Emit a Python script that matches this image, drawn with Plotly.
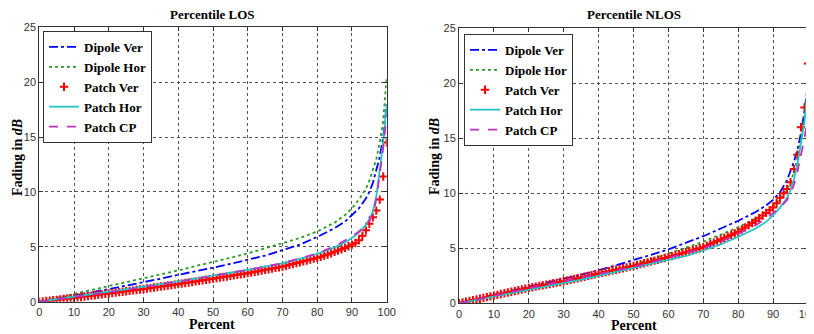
import plotly.graph_objects as go

# ---------------- data ----------------
pct = [0, 5, 10, 15, 20, 25, 30, 35, 40, 45, 50, 55, 60, 65, 70, 75, 80, 85, 88, 90,
       92, 94, 95, 96, 97, 98, 99, 100]
pct_fine = list(range(0, 101))

los_dipole_ver = [0, 0.27, 0.55, 0.85, 1.15, 1.45, 1.8, 2.1, 2.45, 2.75, 3.1, 3.45, 3.8, 4.2,
                  4.7, 5.2, 5.9, 6.7, 7.3, 7.9, 8.5, 9.4, 10.0, 10.8, 12.0, 13.2, 15.0, 18.0]
los_dipole_hor = [0, 0.35, 0.7, 1.05, 1.4, 1.8, 2.15, 2.5, 2.85, 3.25, 3.6, 4.0, 4.4, 4.85,
                  5.3, 5.8, 6.4, 7.2, 7.9, 8.5, 9.3, 10.3, 11.0, 11.9, 13.0, 14.5, 16.5, 20.5]
los_patch_ver = [0.0, 0.03, 0.07, 0.1, 0.14, 0.17, 0.21, 0.24, 0.28, 0.31, 0.35,
                 0.39, 0.43, 0.47, 0.51, 0.55, 0.59, 0.63, 0.67, 0.71, 0.75,
                 0.79, 0.83, 0.87, 0.91, 0.95, 0.99, 1.03, 1.07, 1.11, 1.15,
                 1.2, 1.24, 1.29, 1.33, 1.38, 1.42, 1.47, 1.51, 1.56, 1.6,
                 1.65, 1.7, 1.75, 1.8, 1.85, 1.9, 1.95, 2.0, 2.05, 2.1,
                 2.15, 2.2, 2.25, 2.3, 2.35, 2.4, 2.45, 2.5, 2.55, 2.6,
                 2.66, 2.72, 2.78, 2.84, 2.9, 2.96, 3.02, 3.08, 3.14, 3.2,
                 3.28, 3.36, 3.44, 3.52, 3.6, 3.68, 3.76, 3.84, 3.92, 4.0,
                 4.1, 4.2, 4.3, 4.42, 4.55, 4.66, 4.78, 4.9, 5.05, 5.2,
                 5.35, 5.6, 6.0, 6.5, 7.1, 7.7, 8.3, 9.3, 11.4, 14.5]
los_patch_hor = [0, 0.22, 0.45, 0.68, 0.9, 1.13, 1.36, 1.6, 1.85, 2.1, 2.36, 2.62, 2.9, 3.2,
                 3.5, 3.9, 4.35, 4.95, 5.4, 5.8, 6.3, 7.0, 7.5, 8.2, 9.6, 12.0, 14.5, 18.0]
los_patch_cp = [0, 0.2, 0.42, 0.64, 0.87, 1.1, 1.33, 1.58, 1.82, 2.08, 2.34, 2.6, 2.88, 3.18,
                3.5, 3.92, 4.4, 5.05, 5.55, 5.95, 6.4, 7.0, 7.4, 8.0, 9.3, 11.5, 14.0, 17.0]

nlos_dipole_ver = [0, 0.4, 0.8, 1.15, 1.5, 1.85, 2.2, 2.6, 3.0, 3.45, 3.9, 4.4, 4.9, 5.5,
                   6.1, 6.8, 7.5, 8.3, 8.9, 9.4, 10.1, 11.2, 12.0, 12.9, 14.0, 15.5, 17.5, 20.0]
nlos_dipole_hor = [0, 0.3, 0.6, 0.95, 1.3, 1.6, 1.9, 2.3, 2.7, 3.1, 3.5, 4.0, 4.5, 5.05,
                   5.6, 6.25, 6.9, 7.7, 8.3, 8.8, 9.5, 10.4, 11.0, 12.0, 13.2, 15.0, 17.0, 19.5]
nlos_patch_ver = [0, 0.07, 0.14, 0.21, 0.28, 0.35, 0.42, 0.49, 0.56, 0.63, 0.7,
                  0.77, 0.84, 0.91, 0.98, 1.05, 1.12, 1.19, 1.26, 1.33, 1.4,
                  1.46, 1.52, 1.58, 1.64, 1.7, 1.76, 1.82, 1.88, 1.94, 2.0,
                  2.07, 2.14, 2.21, 2.28, 2.35, 2.42, 2.49, 2.56, 2.63, 2.7,
                  2.77, 2.84, 2.91, 2.98, 3.05, 3.12, 3.19, 3.26, 3.33, 3.4,
                  3.48, 3.56, 3.64, 3.72, 3.8, 3.88, 3.96, 4.04, 4.12, 4.2,
                  4.29, 4.38, 4.47, 4.56, 4.65, 4.74, 4.83, 4.92, 5.01, 5.1,
                  5.24, 5.38, 5.52, 5.66, 5.8, 5.94, 6.08, 6.22, 6.36, 6.5,
                  6.7, 6.9, 7.1, 7.3, 7.5, 7.74, 7.98, 8.22, 8.46, 8.7,
                  9.1, 9.6, 10.0, 10.4, 11.0, 12.2, 13.5, 16.0, 17.8, 21.8]
nlos_patch_hor = [0, 0.3, 0.6, 0.9, 1.2, 1.5, 1.8, 2.15, 2.5, 2.85, 3.2, 3.55, 3.9, 4.3,
                  4.8, 5.35, 6.05, 6.8, 7.4, 8.0, 8.7, 9.6, 10.3, 11.3, 12.7, 14.5, 16.5, 20.0]
nlos_patch_cp = [0, 0.35, 0.7, 1.05, 1.4, 1.7, 2.0, 2.35, 2.7, 3.0, 3.3, 3.7, 4.1, 4.55,
                 5.0, 5.6, 6.3, 7.1, 7.7, 8.2, 8.7, 9.4, 10.0, 10.8, 12.0, 13.5, 15.0, 17.0]

x_ticks = [0, 10, 20, 30, 40, 50, 60, 70, 80, 90, 100]
y_ticks = [0, 5, 10, 15, 20, 25]
titles = ["Percentile LOS", "Percentile NLOS"]
names = ["Dipole Ver", "Dipole Hor", "Patch Ver", "Patch Hor", "Patch CP"]
x_label = "Percent"
y_label = "Fading in <i>dB</i>"

# ---------------- layout helpers ----------------
# page body has an 8px margin, so the figure is drawn 8px in from the window corner
OFF = 8
W, H = 814 - OFF, 334 - OFF


def px(sx):
    return (sx - OFF) / W


def py(sy):
    return 1 - (sy - OFF) / H


SERIF = "Liberation Serif"
SANS = "Liberation Sans"

fig = go.Figure()

panels = [
    ("x", "y", "legend", [los_dipole_ver, los_dipole_hor, los_patch_ver, los_patch_hor, los_patch_cp]),
    ("x2", "y2", "legend2", [nlos_dipole_ver, nlos_dipole_hor, nlos_patch_ver, nlos_patch_hor, nlos_patch_cp]),
]

lw = 1.8
for xa, ya, lg, s in panels:
    fig.add_trace(go.Scatter(x=pct, y=s[0], mode="lines", name="<b>" + names[0] + "</b>", xaxis=xa, yaxis=ya, legend=lg,
                             line=dict(color="#0000ff", width=lw, dash="dashdot")))
    fig.add_trace(go.Scatter(x=pct, y=s[1], mode="lines", name="<b>" + names[1] + "</b>", xaxis=xa, yaxis=ya, legend=lg,
                             line=dict(color="#2a9a2a", width=lw, dash="dot")))
    fig.add_trace(go.Scatter(x=pct_fine, y=s[2], mode="markers", name="<b>" + names[2] + "</b>", xaxis=xa, yaxis=ya, legend=lg,
                             marker=dict(symbol="cross-thin", size=6, color="#ff0000",
                                         line=dict(color="#ff0000", width=2))))
    fig.add_trace(go.Scatter(x=pct, y=s[3], mode="lines", name="<b>" + names[3] + "</b>", xaxis=xa, yaxis=ya, legend=lg,
                             line=dict(color="#22c4c4", width=lw)))
    fig.add_trace(go.Scatter(x=pct, y=s[4], mode="lines", name="<b>" + names[4] + "</b>", xaxis=xa, yaxis=ya, legend=lg,
                             line=dict(color="#c030c0", width=lw, dash="dash")))

axis_common = dict(
    automargin=False,
    showline=True, mirror="ticks", linecolor="#333333", linewidth=1,
    ticks="inside", ticklen=4, tickcolor="#333333",
    showgrid=True, gridcolor="#555555", griddash="dot", gridwidth=1,
    zeroline=False, ticklabeloverflow="allow",
    tickfont=dict(family=SANS, size=11, color="#333333"),
)
title_font = dict(family=SERIF, size=14, color="black")
legend_common = dict(xanchor="left", yanchor="top", bgcolor="white", bordercolor="#333333",
                     borderwidth=1, font=dict(family=SERIF, size=13, color="black"),
                     tracegroupgap=0, itemwidth=30)

fig.update_layout(
    template="none",
    width=W, height=H,
    margin=dict(l=0, r=0, t=0, b=0),
    paper_bgcolor="white", plot_bgcolor="white",
    showlegend=True,
    xaxis=dict(domain=[px(39.3), px(386.7)], range=[0, 100], tickvals=x_ticks, anchor="y", **axis_common),
    yaxis=dict(domain=[py(301.7), py(27.3)], range=[0, 25], tickvals=y_ticks, anchor="x", **axis_common),
    xaxis2=dict(domain=[px(459), px(808)], range=[0, 100], tickvals=x_ticks, anchor="y2", **axis_common),
    yaxis2=dict(domain=[py(303.3), py(28.3)], range=[0, 25], tickvals=y_ticks, anchor="x2", **axis_common),
    legend=dict(x=px(43), y=py(31), **legend_common),
    legend2=dict(x=px(464), y=py(34), **legend_common),
    annotations=[
        dict(text="<b>" + titles[0] + "</b>", x=px(212), y=py(14), xref="paper", yref="paper",
             xanchor="center", yanchor="middle", showarrow=False,
             font=dict(family=SERIF, size=13, color="black")),
        dict(text="<b>" + titles[1] + "</b>", x=px(634), y=py(15), xref="paper", yref="paper",
             xanchor="center", yanchor="middle", showarrow=False,
             font=dict(family=SERIF, size=13, color="black")),
        dict(text="<b>" + x_label + "</b>", x=px(212), y=py(324), xref="paper", yref="paper",
             xanchor="center", yanchor="middle", showarrow=False, font=title_font),
        dict(text="<b>" + x_label + "</b>", x=px(634), y=py(325), xref="paper", yref="paper",
             xanchor="center", yanchor="middle", showarrow=False, font=title_font),
        dict(text="<b>" + y_label + "</b>", x=px(17), y=py(158), xref="paper", yref="paper",
             xanchor="center", yanchor="middle", textangle=-90, showarrow=False, font=title_font),
        dict(text="<b>" + y_label + "</b>", x=px(434), y=py(157), xref="paper", yref="paper",
             xanchor="center", yanchor="middle", textangle=-90, showarrow=False, font=title_font),
    ],
)

fig.write_html("out.html")
